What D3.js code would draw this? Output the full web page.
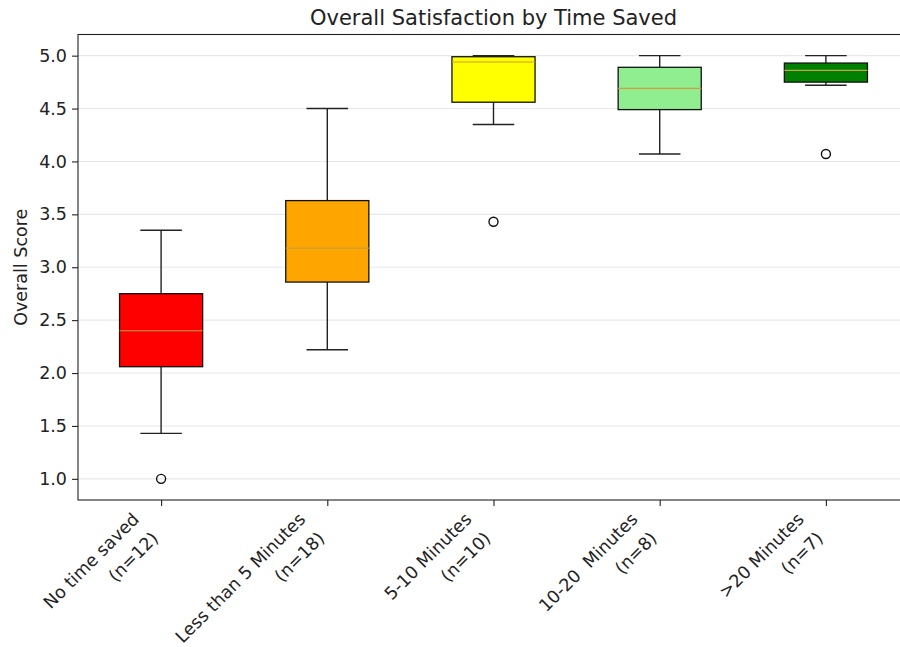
<!DOCTYPE html>
<html>
<head>
<meta charset="utf-8">
<script src="https://cdn.jsdelivr.net/npm/d3@7/dist/d3.min.js"></script>
<style>
  html, body { margin: 0; padding: 0; background: #fff; }
  svg { display: block; font-family: "DejaVu Sans", sans-serif; }
</style>
</head>
<body>
<svg id="chart" width="900" height="647"></svg>
<script>
// ---- Data ----
const categories = ["No time saved", "Less than 5 Minutes", "5-10 Minutes", "10-20  Minutes", ">20 Minutes"];
const counts = [12, 18, 10, 8, 7];
const whiskerLow = [1.43, 2.22, 4.35, 4.07, 4.72];
const q1 = [2.06, 2.86, 4.56, 4.49, 4.75];
const median = [2.40, 3.18, 4.94, 4.69, 4.86];
const q3 = [2.75, 3.63, 4.99, 4.89, 4.93];
const whiskerHigh = [3.35, 4.50, 5.00, 5.00, 5.00];
const outliers = [[1.0], [], [3.43], [], [4.07]];
const yTicks = [1.0, 1.5, 2.0, 2.5, 3.0, 3.5, 4.0, 4.5, 5.0];
const title = "Overall Satisfaction by Time Saved";
const yLabel = "Overall Score";

// ---- Styles ----
const boxColors = ["#ff0000", "#ffa500", "#ffff00", "#90ee90", "#008000"];
const medianColor = "#c9a042";

(function () {
const svg = d3.select("#chart");
const mLeft = 78, mRight = 909, mTop = 34.5, mBottom = 500;

const x = d3.scaleLinear().domain([0.5, categories.length + 0.5]).range([mLeft, mRight]);
const y = d3.scaleLinear().domain([0.8, 5.2]).range([mBottom, mTop]);

const boxW = x(1.25) - x(1);   // half width of box (0.25 units)
const capW = x(1.125) - x(1);  // half width of cap

// grid
svg.append("g").selectAll("line").data(yTicks).join("line")
  .attr("x1", mLeft).attr("x2", mRight)
  .attr("y1", d => y(d)).attr("y2", d => y(d))
  .attr("stroke", "#e8e8e8").attr("stroke-width", 1.1);

// boxes
const groups = svg.append("g").selectAll("g").data(categories).join("g");
groups.each(function(c, i) {
  const g = d3.select(this);
  const cx = x(i + 1);
  g.append("line").attr("x1", cx).attr("x2", cx).attr("y1", y(q1[i])).attr("y2", y(whiskerLow[i]))
    .attr("stroke", "#222").attr("stroke-width", 1.4);
  g.append("line").attr("x1", cx).attr("x2", cx).attr("y1", y(q3[i])).attr("y2", y(whiskerHigh[i]))
    .attr("stroke", "#222").attr("stroke-width", 1.4);
  [whiskerLow[i], whiskerHigh[i]].forEach(v => {
    g.append("line").attr("x1", cx - capW).attr("x2", cx + capW).attr("y1", y(v)).attr("y2", y(v))
      .attr("stroke", "#222").attr("stroke-width", 1.4);
  });
  g.append("rect").attr("x", cx - boxW).attr("width", 2 * boxW)
    .attr("y", y(q3[i])).attr("height", y(q1[i]) - y(q3[i]))
    .attr("fill", boxColors[i]).attr("stroke", "#111").attr("stroke-width", 1.3);
  g.append("line").attr("x1", cx - boxW).attr("x2", cx + boxW).attr("y1", y(median[i])).attr("y2", y(median[i]))
    .attr("stroke", medianColor).attr("stroke-width", 1.2);
  g.selectAll("circle").data(outliers[i]).join("circle")
    .attr("cx", cx).attr("cy", d => y(d)).attr("r", 4.5)
    .attr("fill", "none").attr("stroke", "#111").attr("stroke-width", 1.4);
});

// spines
svg.append("rect").attr("x", mLeft).attr("y", mTop).attr("width", mRight - mLeft).attr("height", mBottom - mTop)
  .attr("fill", "none").attr("stroke", "#222").attr("stroke-width", 1.1);

// y axis
const yAxis = svg.append("g").attr("transform", `translate(${mLeft},0)`)
  .call(d3.axisLeft(y).tickValues(yTicks).tickFormat(d3.format(".1f")).tickSize(6).tickPadding(5));
yAxis.select(".domain").remove();
yAxis.selectAll(".tick line").attr("stroke", "#222").attr("stroke-width", 1.1);
yAxis.selectAll(".tick text").attr("font-size", "17.5px").attr("fill", "#222")
  .attr("font-family", "DejaVu Sans, sans-serif");

// x axis ticks
const xAxis = svg.append("g").attr("transform", `translate(0,${mBottom})`)
  .call(d3.axisBottom(x).tickValues(d3.range(1, categories.length + 1)).tickSize(6).tickFormat(""));
xAxis.select(".domain").remove();
xAxis.selectAll(".tick line").attr("stroke", "#222").attr("stroke-width", 1.1);

// x tick labels (rotated, right aligned)
categories.forEach((c, i) => {
  const outer = svg.append("g");
  const inner = outer.append("g").attr("transform", "rotate(-45)");
  const t = inner.append("text").attr("text-anchor", "end").attr("font-size", "17.5px").attr("fill", "#222")
    .style("white-space", "pre");
  t.append("tspan").attr("x", 0).attr("y", 0).text(c);
  t.append("tspan").attr("x", 0).attr("y", 27).text(`(n=${counts[i]})`);
  const bb = outer.node().getBBox();
  outer.attr("transform", `translate(${x(i + 1) + 1 - (bb.x + bb.width)},${mBottom + 9 - bb.y})`);
});

// title
svg.append("text").attr("x", (mLeft + mRight) / 2).attr("y", 25).attr("text-anchor", "middle")
  .attr("font-size", "21px").attr("fill", "#222").text(title);

// y label
svg.append("text").attr("transform", `translate(27,${(mTop + mBottom) / 2}) rotate(-90)`)
  .attr("text-anchor", "middle").attr("font-size", "17.5px").attr("fill", "#222").text(yLabel);
})();
</script>
</body>
</html>
